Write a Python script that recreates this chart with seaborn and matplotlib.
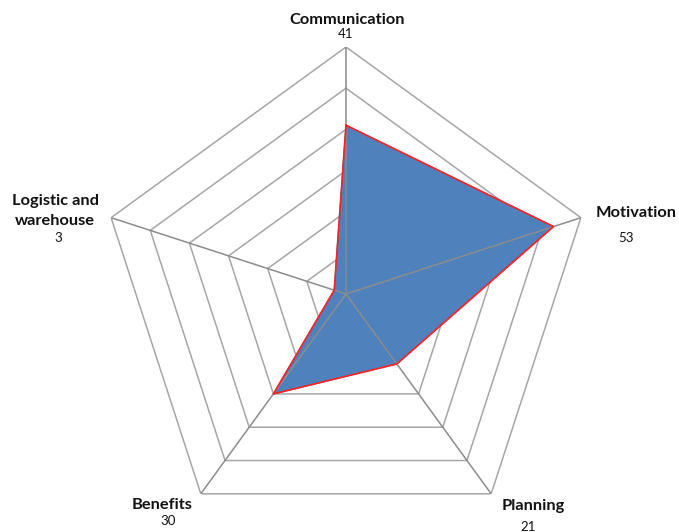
import numpy as np
import matplotlib
matplotlib.use("Agg")
import matplotlib.pyplot as plt
import seaborn as sns

categories = ["Communication", "Motivation", "Planning", "Benefits", "Logistic and\nwarehouse"]
values = [41, 53, 21, 30, 3]
ring_levels = [10, 20, 30, 40, 50, 60]

# label offsets (pixels) from each outer vertex: name, value
name_offsets = [(1, 27), (55, 5), (42, -12), (-39, -11), (-56, 7)]
value_offsets = [(0, 13), (45, -20), (37, -33), (-33, -27), (-53, -20)]

sns.set_style("white")
plt.rcParams["font.family"] = ["Lato", "DejaVu Sans"]

W, H = 679, 532
fig = plt.figure(figsize=(W / 100, H / 100), dpi=100)
cx, cy, R = 346, 294, 247
ax = fig.add_axes([(cx - R) / W, (H - cy - R) / H, 2 * R / W, 2 * R / H], projection="polar")
ax.set_theta_offset(np.pi / 2)
ax.set_theta_direction(-1)
ax.set_ylim(0, ring_levels[-1])
ax.grid(False)
ax.spines["polar"].set_visible(False)
ax.set_xticks([])
ax.set_yticks([])
ax.patch.set_alpha(0)

n = len(categories)
theta = np.linspace(0, 2 * np.pi, n, endpoint=False)
theta_closed = np.append(theta, theta[0])

grid_col = "#a6a6a6"
for lvl in ring_levels:
    ax.plot(theta_closed, [lvl] * (n + 1), color=grid_col, lw=1.1, zorder=1)

vals_closed = np.append(values, values[0])
ax.fill(theta_closed, vals_closed, color="#4f81bd", zorder=2)

for t in theta:
    ax.plot([t, t], [0, ring_levels[-1]], color="#8c8c8c", lw=1.1, zorder=3)

sns.lineplot(x=theta_closed, y=vals_closed, sort=False, estimator=None,
             color="#ff2020", lw=1.2, ax=ax, zorder=4)

for t, name, v, no, vo in zip(theta, categories, values, name_offsets, value_offsets):
    ax.annotate(name, (t, ring_levels[-1]), xytext=no, textcoords="offset pixels",
                ha="center", va="center", fontsize=11.8, fontweight="bold",
                color="#111111", linespacing=1.55, annotation_clip=False)
    ax.annotate(str(v), (t, ring_levels[-1]), xytext=vo, textcoords="offset pixels",
                ha="center", va="center", fontsize=9.5, color="#111111",
                annotation_clip=False)

fig.savefig("out.png", dpi=100)
